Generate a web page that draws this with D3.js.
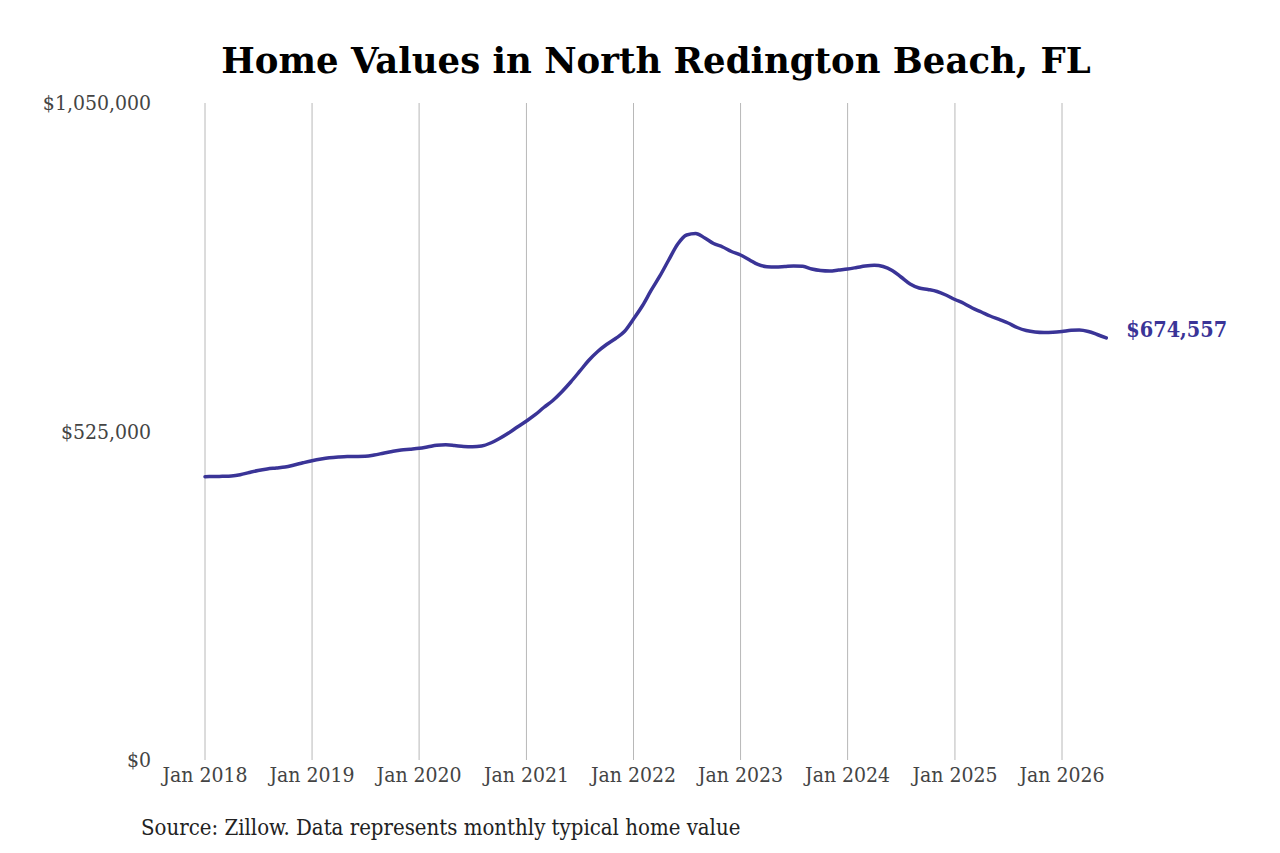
<!DOCTYPE html>
<html>
<head>
<meta charset="utf-8">
<script src="https://cdn.jsdelivr.net/npm/d3@7"></script>
<style>
  body { margin: 0; background: #fff; }
  svg { display: block; }
</style>
</head>
<body>
<svg id="chart" width="1280" height="853"></svg>
<script>
// monthly typical home value, Jan 2018 .. Jun 2026
var startMonth = new Date(2018, 0, 1);
var values = [
  452770, 453090, 453410, 453890, 455810, 459480, 462680, 465080, 466670, 468270, 471470, 474980,
  478340, 481060, 482980, 484260, 485050, 485200, 485530, 487450, 490330, 493050, 495440, 496720,
  498160, 500560, 502960, 503750, 502640, 501040, 500560, 501830, 506630, 513820, 522610, 532200,
  541790, 552180, 563370, 574550, 588140, 604120, 620900, 638480, 652860, 664060, 673640, 684830,
  704810, 726380, 749560, 773530, 799100, 824670, 839060, 841450, 834260, 825470, 819880, 812690,
  807090, 799100, 791910, 788390, 787910, 788710, 789510, 789030, 784720, 782320, 781520, 783120,
  784720, 787110, 789510, 790790, 788710, 782320, 771930, 760740, 754350, 751950, 748750, 743160,
  735970, 729580, 722390, 715990, 709600, 704010, 698410, 691220, 686420, 684030, 683230, 683550,
  684830, 686750, 687230, 684830, 680040, 674557
];
var yTicks = [0, 525000, 1050000];
var xTickYears = [2018, 2019, 2020, 2021, 2022, 2023, 2024, 2025, 2026];
var titleText = "Home Values in North Redington Beach, FL";
var sourceText = "Source: Zillow. Data represents monthly typical home value";

var data = values.map(function(v, i) {
  return { date: d3.timeMonth.offset(startMonth, i), value: v };
});

var svg = d3.select('#chart');
var serif = '"DejaVu Serif Condensed", "DejaVu Serif", serif';

var x = d3.scaleTime()
  .domain([new Date(2018, 0, 1), new Date(2026, 0, 1)])
  .range([205, 1062]);
var y = d3.scaleLinear()
  .domain([0, 1050000])
  .range([760, 103]);

// vertical gridlines
svg.append('g').selectAll('line')
  .data(xTickYears)
  .enter().append('line')
    .attr('x1', function(d) { return x(new Date(d, 0, 1)); })
    .attr('x2', function(d) { return x(new Date(d, 0, 1)); })
    .attr('y1', y(1050000))
    .attr('y2', 760)
    .style('stroke', '#b8b8b8')
    .style('stroke-width', 1);

// x tick labels
svg.append('g').selectAll('text')
  .data(xTickYears)
  .enter().append('text')
    .attr('x', function(d) { return x(new Date(d, 0, 1)); })
    .attr('y', 782)
    .attr('text-anchor', 'middle')
    .style('font-family', serif)
    .style('font-size', '21px')
    .style('fill', '#444')
    .text(function(d) { return 'Jan ' + d; });

// y tick labels
var fmt = d3.format('$,.0f');
svg.append('g').selectAll('text')
  .data(yTicks)
  .enter().append('text')
    .attr('x', 151)
    .attr('y', function(d) { return y(d); })
    .attr('dy', '0.35em')
    .attr('text-anchor', 'end')
    .style('font-family', serif)
    .style('font-size', '21px')
    .style('fill', '#444')
    .text(function(d) { return fmt(d); });

// the line
var line = d3.line()
  .x(function(d) { return x(d.date); })
  .y(function(d) { return y(d.value); })
  .curve(d3.curveMonotoneX);

svg.append('path')
  .datum(data)
  .attr('d', line)
  .style('fill', 'none')
  .style('stroke', '#3a3497')
  .style('stroke-width', 3.5)
  .style('stroke-linejoin', 'round')
  .style('stroke-linecap', 'round');

// end label
var last = data[data.length - 1];
svg.append('text')
  .attr('x', x(last.date) + 20)
  .attr('y', y(last.value) - 8)
  .attr('dy', '0.35em')
  .style('font-family', serif)
  .style('font-size', '21.5px')
  .style('font-weight', 'bold')
  .style('fill', '#3a3497')
  .text(fmt(last.value));

// title
svg.append('text')
  .attr('x', 656)
  .attr('y', 73)
  .attr('text-anchor', 'middle')
  .style('font-family', '"DejaVu Serif", serif')
  .style('font-size', '35.5px')
  .style('font-weight', 'bold')
  .style('fill', '#000')
  .text(titleText);

// source
svg.append('text')
  .attr('x', 141)
  .attr('y', 835)
  .style('font-family', serif)
  .style('font-size', '22px')
  .style('fill', '#222')
  .text(sourceText);
</script>
</body>
</html>
